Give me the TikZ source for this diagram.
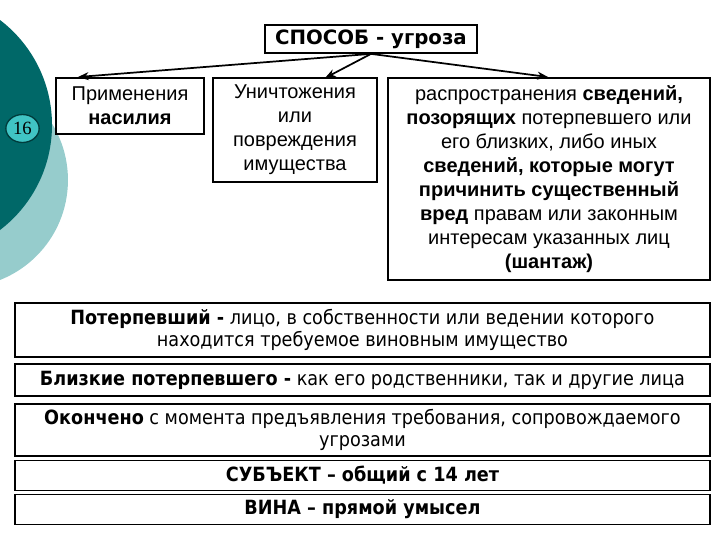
\documentclass[tikz,border=0pt]{standalone}
\usepackage{fontspec}
\setmainfont{Liberation Sans}
\newfontfamily\cond{DejaVu Sans Condensed}
\newfontfamily\verd{DejaVu Sans}
\newfontfamily\serifnum{Liberation Serif}
\usetikzlibrary{arrows.meta,shapes.geometric}
\definecolor{darkteal}{RGB}{0,104,104}
\definecolor{lightteal}{RGB}{150,204,204}
\definecolor{numteal}{RGB}{64,196,196}
\definecolor{numborder}{RGB}{0,60,60}
\begin{document}
\begin{tikzpicture}[x=0.75pt,y=-0.75pt,
  box/.style={draw=black,line width=1.3pt,align=center,inner sep=0pt},
  upper/.style={font=\fontsize{15}{18}\selectfont},
  lower/.style={font=\cond\fontsize{14.7}{16.5}\selectfont},
  wide/.style={box,lower,minimum width=521.25pt},
  arr/.style={-{Stealth[length=8pt,width=6pt]},line width=1.3pt}]
\useasboundingbox (0,0) rectangle (720,540);
\begin{scope}
\clip (0,0) rectangle (720,540);
\fill[lightteal] (-39.5,180) circle (80.6pt);
\fill[darkteal] (-80,125) circle (99pt);
\end{scope}
\node[draw=numborder,line width=1pt,fill=numteal,ellipse,minimum width=25pt,minimum height=21pt,inner sep=0pt,font=\serifnum\fontsize{14}{14}\selectfont] (num) at (22.5,128.5) {16};

\node[box,minimum width=159pt,minimum height=21pt,font=\verd\bfseries\fontsize{14.8}{16}\selectfont] (top) at (371,39) {СПОСОБ - угроза};

\node[box,upper,minimum width=111pt,minimum height=42pt] (b1) at (130,106) {Применения\\\textbf{насилия}};
\node[box,upper,minimum width=123pt,minimum height=78pt] (b2) at (295,130) {Уничтожения\\или\\повреждения\\имущества};
\node[box,upper,minimum width=241.5pt,minimum height=151.5pt] (b3) at (549,179) {распространения \textbf{сведений,}\\\textbf{позорящих} потерпевшего или\\его близких, либо иных\\\textbf{сведений, которые могут}\\\textbf{причинить существенный}\\\textbf{вред} правам или законным\\интересам указанных лиц\\\textbf{(шантаж)}};

\coordinate (t1) at (78,77);
\coordinate (t2) at (325,78);
\coordinate (t3) at (548,77);
\draw[arr] (top.south) -- (t1);
\draw[arr] (top.south) -- (t2);
\draw[arr] (top.south) -- (t3);

\node[wide,minimum height=40.5pt] (b4) at (362.5,330) {\textbf{Потерпевший -} лицо, в собственности или ведении которого\\находится требуемое виновным имущество};
\node[wide,minimum height=24pt] (b5) at (362.5,380) {\textbf{Близкие потерпевшего -} как его родственники, так и другие лица};
\node[wide,minimum height=39pt] (b6) at (362.5,430) {\textbf{Окончено} с момента предъявления требования, сопровождаемого\\угрозами};
\node[wide,minimum height=22.5pt] (b7) at (362.5,475.5) {\textbf{СУБЪЕКТ – общий с 14 лет}};
\node[wide,minimum height=22.5pt] (b8) at (362.5,509.5) {\textbf{ВИНА – прямой умысел}};
\end{tikzpicture}
\end{document}
